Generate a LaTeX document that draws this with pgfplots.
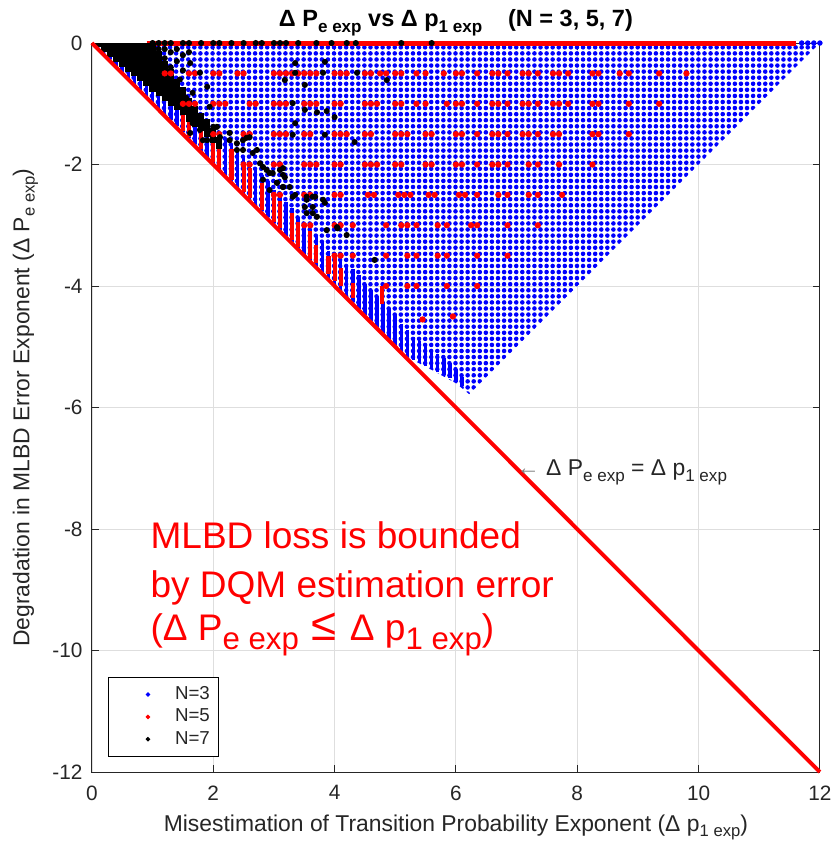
\documentclass[border=0pt]{standalone}
\usepackage{fontspec}
\setmainfont{Liberation Sans}
\usepackage{pgfplots}
\pgfplotsset{compat=1.18}
\usetikzlibrary{patterns.meta}
\definecolor{axc}{rgb}{0.15,0.15,0.15}
\definecolor{gridc}{rgb}{0.87,0.87,0.87}
\newcommand{\sbs}[2]{\raisebox{-0.45ex}{\fontsize{#1}{#1}\selectfont #2}}
\begin{document}
\begin{tikzpicture}
\begin{axis}[
  scale only axis, width=350pt, height=350.5pt,
  xmin=0, xmax=12, ymin=-12, ymax=0,
  xtick={0,2,...,12}, ytick={-12,-10,...,0},
  grid=major, major grid style={color=gridc, line width=0.4pt},
  axis line style={color=axc, line width=0.5pt},
  tick style={color=axc, line width=0.5pt},
  tick align=inside, major tick length=3.5pt,
  ticklabel style={font=\fontsize{10}{12}\selectfont, text=axc},
  xticklabel style={yshift=-3pt},
  yticklabel style={xshift=-1pt},
  /pgf/number format/assume math mode=true,
  xlabel={Misestimation of Transition Probability Exponent (Δ p\sbs{8}{1 exp})},
  ylabel={Degradation in MLBD Error Exponent (Δ P\sbs{8}{e exp})},
  label style={font=\fontsize{11}{13}\selectfont, text=axc},
  title={Δ P\sbs{8.2}{e exp} vs Δ p\sbs{8.2}{1 exp}\hspace{1.1em}(N = 3, 5, 7)},
  title style={font=\bfseries\fontsize{11.3}{13}\selectfont, text=black, yshift=-6pt},
  clip=false,
  legend style={at={(axis description cs:0.022,0.0206)}, anchor=south west,
    draw=black, line width=0.5pt, fill=white, font=\fontsize{9}{10}\selectfont,
    text=axc, row sep=-1pt, inner xsep=2pt, inner ysep=2.5pt},
  legend image code/.code={\path[draw=none, fill=none] (0pt,0pt) (28pt,0pt);
    \draw[#1] plot coordinates {(17pt,0pt)};},
  legend cell align=left,
]
% ---- N=3 (blue): dense lattice region
\addplot[draw=none, pattern={Dots[radius=1.1pt, distance=2.92pt]}, pattern color=blue, forget plot]
  coordinates {(0,0) (12,0) (6.22,-5.78) (6.0,-5.6) (5.6,-5.38) (5.2,-5.17) (0,0)};
% blue columns along the diagonal
\addplot[draw=none, mark=none, forget plot, error bars/.cd, y dir=plus, y explicit,
  error mark=none, error bar style={draw=blue, line width=1.7pt}]
  table[x index=0, y index=1, y error index=2] {
x y e
0.3 -0.27 0.2
0.4 -0.37 0.25
0.5 -0.47 0.3
0.6 -0.57 0.35
0.7 -0.67 0.4
0.8 -0.77 0.45
0.9 -0.87 0.5
1.0 -0.97 0.55
1.1 -1.07 0.55
1.2 -1.17 0.6
1.3 -1.27 0.6
1.4 -1.37 0.6
1.5 -1.47 0.6
1.6 -1.57 0.6
1.7 -1.67 0.6
1.8 -1.77 0.6
1.9 -1.87 0.6
2.0 -1.97 0.6
2.1 -2.07 0.6
2.2 -2.17 0.6
2.3 -2.27 0.6
2.4 -2.37 0.6
2.5 -2.47 0.6
2.6 -2.57 0.6
2.7 -2.67 0.6
2.8 -2.77 0.6
2.9 -2.87 0.6
3.0 -2.97 0.55
3.1 -3.07 0.55
3.2 -3.17 0.55
3.3 -3.27 0.55
3.4 -3.37 0.5
3.5 -3.47 0.5
3.6 -3.57 0.5
3.7 -3.67 0.5
3.8 -3.77 0.5
3.9 -3.87 0.45
4.0 -3.97 0.45
4.1 -4.07 0.5
4.2 -4.17 0.5
4.3 -4.27 0.55
4.4 -4.37 0.55
4.5 -4.47 0.5
4.6 -4.57 0.5
4.7 -4.67 0.5
4.8 -4.77 0.5
4.9 -4.87 0.5
5.0 -4.97 0.5
5.1 -5.07 0.45
5.2 -5.15 0.42
5.3 -5.22 0.38
5.4 -5.27 0.36
5.5 -5.32 0.34
5.6 -5.37 0.32
5.7 -5.42 0.3
5.8 -5.47 0.28
5.9 -5.52 0.26
6.0 -5.58 0.22
6.1 -5.64 0.15
};
\addplot[only marks, mark=*, mark size=1.1pt, blue, mark options={draw=none}, forget plot]
  coordinates {(11.7,0) (11.8,0) (11.9,0) (12,0)};
% ---- N=5 (red)
\addplot[red, line width=2.4pt, forget plot] coordinates {(0.9,0) (11.6,0)};
\addplot[only marks, mark=*, mark size=1.3pt, red, mark options={draw=none}, forget plot]
  coordinates {
(1.2,-0.5)(1.3,-0.5)(1.6,-0.5)(1.7,-0.5)(2.0,-0.5)(2.1,-0.5)(2.4,-0.5)(2.5,-0.5)(3.0,-0.5)(3.1,-0.5)(3.2,-0.5)(3.3,-0.5)(3.4,-0.5)(3.5,-0.5)(3.6,-0.5)(3.7,-0.5)(4.0,-0.5)(4.1,-0.5)(4.2,-0.5)(4.5,-0.5)(4.6,-0.5)(4.75,-0.5)(4.85,-0.5)(5.0,-0.5)(5.1,-0.5)(5.35,-0.5)(5.5,-0.5)(5.8,-0.5)(6.0,-0.5)(6.1,-0.5)(6.35,-0.5)(6.6,-0.5)(6.7,-0.5)(6.85,-0.5)(7.1,-0.5)(7.2,-0.5)(7.35,-0.5)(7.6,-0.5)(7.7,-0.5)(7.85,-0.5)(8.25,-0.5)(8.35,-0.5)(8.7,-0.5)(8.85,-0.5)(9.35,-0.5)(9.8,-0.5)
(1.5,-1)(1.6,-1)(1.7,-1)(2.0,-1)(2.1,-1)(2.2,-1)(2.6,-1)(2.7,-1)(3.0,-1)(3.1,-1)(3.2,-1)(3.5,-1)(3.6,-1)(3.7,-1)(4.0,-1)(4.1,-1)(4.5,-1)(4.6,-1)(4.7,-1)(5.0,-1)(5.1,-1)(5.35,-1)(5.5,-1)(5.85,-1)(6.0,-1)(6.1,-1)(6.35,-1)(6.6,-1)(6.7,-1)(6.85,-1)(7.1,-1)(7.2,-1)(7.35,-1)(7.6,-1)(7.7,-1)(7.85,-1)(8.25,-1)(8.35,-1)(8.85,-1)(9.35,-1)
(2.0,-1.5)(2.1,-1.5)(2.5,-1.5)(2.6,-1.5)(3.0,-1.5)(3.1,-1.5)(3.2,-1.5)(3.5,-1.5)(3.6,-1.5)(4.0,-1.5)(4.1,-1.5)(4.2,-1.5)(4.5,-1.5)(4.6,-1.5)(5.0,-1.5)(5.1,-1.5)(5.2,-1.5)(5.5,-1.5)(5.6,-1.5)(6.0,-1.5)(6.1,-1.5)(6.35,-1.5)(6.6,-1.5)(6.7,-1.5)(6.85,-1.5)(7.1,-1.5)(7.2,-1.5)(7.35,-1.5)(7.6,-1.5)(7.7,-1.5)(8.25,-1.5)(8.35,-1.5)(8.85,-1.5)
(2.5,-2)(2.6,-2)(3.0,-2)(3.1,-2)(3.5,-2)(3.6,-2)(3.7,-2)(4.0,-2)(4.1,-2)(4.5,-2)(4.6,-2)(4.7,-2)(5.0,-2)(5.1,-2)(5.5,-2)(5.6,-2)(6.0,-2)(6.1,-2)(6.35,-2)(6.6,-2)(6.7,-2)(6.85,-2)(7.2,-2)(7.35,-2)(7.7,-2)(8.25,-2)
(3.0,-2.5)(3.1,-2.5)(3.5,-2.5)(3.6,-2.5)(4.0,-2.5)(4.1,-2.5)(4.55,-2.5)(4.65,-2.5)(5.05,-2.5)(5.15,-2.5)(5.25,-2.5)(5.55,-2.5)(5.65,-2.5)(6.05,-2.5)(6.15,-2.5)(6.35,-2.5)(6.7,-2.5)(6.85,-2.5)(7.2,-2.5)(7.35,-2.5)(7.75,-2.5)
(3.5,-3)(3.6,-3)(4.0,-3)(4.1,-3)(4.3,-3)(4.85,-3)(5.1,-3)(5.2,-3)(5.35,-3)(5.7,-3)(5.85,-3)(6.25,-3)(6.35,-3)(6.85,-3)(7.35,-3)
(4.0,-3.5)(4.1,-3.5)(4.3,-3.5)(4.85,-3.5)(5.2,-3.5)(5.35,-3.5)(5.7,-3.5)(5.85,-3.5)(6.35,-3.5)(6.85,-3.5)
(4.85,-4)(5.2,-4)(5.35,-4)(5.85,-4)(6.35,-4)
(5.45,-4.55)(5.95,-4.5)
};
\addplot[draw=none, mark=none, forget plot, error bars/.cd, y dir=plus, y explicit,
  error mark=none, error bar style={draw=red, line width=2pt}]
  table[x index=0, y index=1, y error index=2] {
x y e
1.5 -1.45 0.5
1.6 -1.55 0.55
1.8 -1.75 0.5
2.0 -1.95 0.5
2.1 -2.05 0.45
2.3 -2.25 0.5
2.5 -2.45 0.45
2.6 -2.55 0.5
2.8 -2.75 0.45
3.0 -2.95 0.5
3.1 -3.05 0.45
3.3 -3.25 0.45
3.4 -3.35 0.4
3.6 -3.55 0.45
3.7 -3.62 0.3
3.9 -3.8 0.3
4.0 -3.92 0.4
4.1 -4.0 0.3
4.3 -4.2 0.25
4.78 -4.3 0.3
};
% ---- N=7 (black)
\addplot[draw=none, mark=none, forget plot, error bars/.cd, y dir=plus, y explicit,
  error mark=none, error bar style={draw=black, line width=3pt}]
  table[x index=0, y index=1, y error index=2] {
x y e
0.05 -0.03 0.03
0.1 -0.06 0.06
0.2 -0.14 0.14
0.3 -0.23 0.23
0.4 -0.31 0.31
0.5 -0.39 0.39
0.6 -0.47 0.47
0.7 -0.55 0.55
0.8 -0.63 0.63
0.9 -0.71 0.71
1.0 -0.8 0.8
1.1 -0.88 0.75
1.2 -0.95 0.65
1.3 -1.03 0.6
1.4 -1.1 0.5
1.5 -1.18 0.45
1.6 -1.3 0.4
1.7 -1.38 0.35
1.8 -1.45 0.3
1.9 -1.55 0.3
2.0 -1.65 0.25
2.1 -1.75 0.2
};
\addplot[only marks, mark=*, mark size=1.25pt, black, mark options={draw=none}, forget plot]
  coordinates {
(1.0,0)(1.1,0)(1.2,0)(1.3,0)(1.5,0)(1.6,0)(1.8,0)(2.0,0)(2.1,0)(2.3,0)(2.5,0)(2.7,0)(2.8,0)(3.0,0)(3.1,0)(3.2,0)(3.4,0)(3.7,0)(3.95,0)(4.2,0)(4.35,0)(5.1,0)(5.6,0)
(1.1,-0.1)(1.2,-0.1)(1.3,-0.15)(1.2,-0.25)(1.4,-0.3)(1.3,-0.4)(1.4,-0.1)(1.5,-0.2)(1.6,-0.15)(1.5,-0.45)(1.45,-0.6)(1.35,-0.75)(1.55,-0.9)
(3.35,-0.33)(3.84,-0.31)(3.35,-0.49)(3.81,-0.49)(3.18,-0.61)(3.51,-0.69)(4.37,-0.49)(4.86,-0.61)(3.31,-0.99)(3.51,-1.1)(3.71,-1.14)(3.87,-1.12)(4.0,-1.22)(3.35,-1.32)(3.31,-1.51)(3.84,-1.51)(4.33,-1.63)(3.15,-2.06)(3.18,-2.21)(3.15,-2.37)(3.35,-2.5)(3.54,-2.53)(3.68,-2.53)(3.51,-2.7)(3.64,-2.8)(3.84,-2.63)(4.05,-3.05)(4.2,-3.16)
(1.66,-1.32)(1.78,-1.43)(2.0,-1.38)(2.11,-1.55)(1.9,-1.6)(2.27,-1.6)(2.39,-1.65)(2.55,-1.56)(2.49,-1.76)(2.65,-1.81)(2.77,-1.98)(2.88,-2.09)(2.98,-2.14)(3.1,-2.09)(3.15,-2.17)(2.82,-2.25)(3.05,-2.3)(2.93,-2.42)(3.26,-2.37)(3.31,-2.53)(3.54,-2.58)(3.64,-2.53)(3.81,-2.58)(3.64,-2.7)(3.54,-2.8)(3.71,-2.86)(3.87,-3.08)(4.04,-3.03)
(1.62,-0.33)(1.78,-0.49)(1.9,-0.72)(1.66,-0.82)(1.94,-1.05)(1.78,-1.27)(1.62,-1.48)(1.83,-1.6)(2.06,-1.38)(2.27,-1.48)(2.49,-1.6)(2.6,-1.55)(2.39,-1.76)(2.72,-1.76)(2.82,-2.04)(2.93,-2.14)(3.05,-2.3)(3.15,-2.37)(4.66,-3.57)
};
% ---- bound line
\addplot[red, line width=1.9pt, forget plot] coordinates {(0,0) (12,-12)};
% ---- legend
\addlegendimage{only marks, mark=*, mark size=0.8pt, blue, mark options={draw=none}}
\addlegendentry{N=3}
\addlegendimage{only marks, mark=*, mark size=0.8pt, red, mark options={draw=none}}
\addlegendentry{N=5}
\addlegendimage{only marks, mark=*, mark size=0.8pt, black, mark options={draw=none}}
\addlegendentry{N=7}
% ---- annotations
\node[anchor=base west, inner sep=0pt, text=axc, font=\fontsize{11}{13}\selectfont, yshift=-3.6pt]
  at (axis cs:7.0,-7.0) {\textcolor{gray}{←} Δ P\sbs{8.2}{e exp} = Δ p\sbs{8.2}{1 exp}};
\node[anchor=north west, inner sep=0pt, text=red, align=left, font=\fontsize{17.8}{23.5}\selectfont]
  at (axis cs:0.96,-7.88) {MLBD loss is bounded\\by DQM estimation error\\[-3pt](Δ P\sbs{15}{e exp}\hspace{0.35em}{\fontsize{22}{22}\selectfont ≤}\hspace{0.35em}Δ p\sbs{15}{1 exp})};
\end{axis}
\pgfresetboundingbox
\path ([xshift=-44.2pt,yshift=-37pt]current axis.south west) rectangle ([xshift=7.7pt,yshift=20.7pt]current axis.north east);
\end{tikzpicture}
\end{document}
